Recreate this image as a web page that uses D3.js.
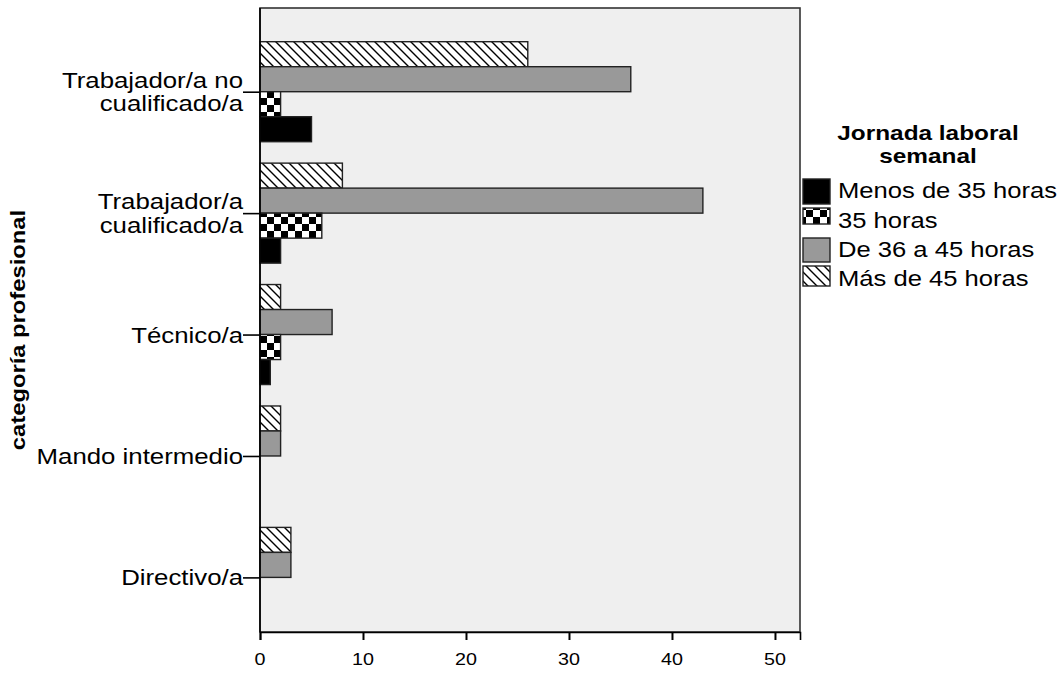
<!DOCTYPE html>
<html>
<head>
<meta charset="utf-8">
<script src="https://cdn.jsdelivr.net/npm/d3@7"></script>
<style>
  html, body { margin: 0; padding: 0; background: #ffffff; }
  svg { display: block; }
  text { font-family: "Liberation Sans", Arial, sans-serif; fill: #000; }
</style>
</head>
<body>
<svg id="chart" width="1062" height="693"></svg>
<script>
// ---- data ----
const categories = ["Trabajador/a no cualificado/a", "Trabajador/a cualificado/a", "Técnico/a", "Mando intermedio", "Directivo/a"];
const categoryLabelLines = [["Trabajador/a no", "cualificado/a"], ["Trabajador/a", "cualificado/a"], ["Técnico/a"], ["Mando intermedio"], ["Directivo/a"]];
const seriesNames = ["Menos de 35 horas", "35 horas", "De 36 a 45 horas", "Más de 45 horas"];
const menosDe35 = [5, 2, 1, 0, 0];
const horas35 = [2, 6, 2, 0, 0];
const de36a45 = [36, 43, 7, 2, 3];
const masDe45 = [26, 8, 2, 2, 3];
const xTicks = [0, 10, 20, 30, 40, 50];
const legendTitle = ["Jornada laboral", "semanal"];
const yTitle = "categoría profesional";

const seriesValues = [menosDe35, horas35, de36a45, masDe45];
const fills = ["#000000", "url(#checker)", "#999999", "url(#hatch)"];

// ---- layout ----
const svg = d3.select("#chart");
const plot = { left: 260, right: 800, top: 8, bottom: 632 };
const SX = 1.16; // horizontal stretch of the original's text

const x = d3.scaleLinear().domain([0, 52.43]).range([plot.left, plot.right]);
const y = d3.scalePoint().domain(categories).range([91.7, 577.4]);
// top-to-bottom order inside each group: Más, De 36 a 45, 35 horas, Menos
const sub = d3.scaleBand().domain([3, 2, 1, 0]).range([-50, 50]).padding(0);

// patterns
const defs = svg.append("defs");
const chk = defs.append("pattern").attr("id", "checker").attr("patternUnits", "userSpaceOnUse")
  .attr("width", 14).attr("height", 14).attr("x", plot.left).attr("y", 0);
chk.append("rect").attr("width", 14).attr("height", 14).attr("fill", "#fff");
chk.append("rect").attr("width", 7).attr("height", 7).attr("fill", "#000");
chk.append("rect").attr("x", 7).attr("y", 7).attr("width", 7).attr("height", 7).attr("fill", "#000");

const hatch = defs.append("pattern").attr("id", "hatch").attr("patternUnits", "userSpaceOnUse")
  .attr("width", 9).attr("height", 9);
hatch.append("rect").attr("width", 9).attr("height", 9).attr("fill", "#fff");
hatch.append("path").attr("d", "M-1,-1 L10,10 M-3,6 L3,12 M6,-3 L12,3")
  .attr("stroke", "#000").attr("stroke-width", 1.4);

// plot background
svg.append("rect").attr("x", plot.left).attr("y", plot.top)
  .attr("width", plot.right - plot.left).attr("height", plot.bottom - plot.top)
  .attr("fill", "#efefef").attr("stroke", "#333").attr("stroke-width", 1.6);

// bars
categories.forEach((c, ci) => {
  [3, 2, 1, 0].forEach(si => {
    const v = seriesValues[si][ci];
    if (v <= 0) return;
    svg.append("rect")
      .attr("x", x(0))
      .attr("y", y(c) + sub(si))
      .attr("width", x(v) - x(0))
      .attr("height", sub.bandwidth())
      .attr("fill", fills[si])
      .attr("stroke", "#222")
      .attr("stroke-width", 1.4);
  });
});

// helper for stretched text
function sText(parent, tx, ty, str, opts = {}) {
  const sx = opts.sx || SX;
  return parent.append("text")
    .attr("transform", `translate(${tx},${ty})${opts.rotate ? ` rotate(${opts.rotate})` : ""} scale(${sx},1)`)
    .attr("text-anchor", opts.anchor || "start")
    .attr("font-size", opts.size || 20)
    .attr("font-weight", opts.weight || "normal")
    .text(str);
}

// x axis
const xAxis = svg.append("g").attr("transform", `translate(0,${plot.bottom})`)
  .call(d3.axisBottom(x).tickValues(xTicks).tickSize(8).tickFormat(""));
xAxis.select(".domain").attr("stroke", "#000").attr("stroke-width", 1.6);
xAxis.selectAll(".tick line").attr("stroke", "#000").attr("stroke-width", 2);
xTicks.forEach(t => sText(svg, x(t), 665, String(t), { anchor: "middle", size: 17 }));

// y axis
const yAxis = svg.append("g").attr("transform", `translate(${plot.left},0)`)
  .call(d3.axisLeft(y).tickSize(17).tickFormat(""));
yAxis.select(".domain").remove();
yAxis.selectAll(".tick line").attr("stroke", "#000").attr("stroke-width", 1.6);
svg.append("line").attr("x1", plot.left).attr("x2", plot.left).attr("y1", plot.top).attr("y2", plot.bottom)
  .attr("stroke", "#000").attr("stroke-width", 1.6);

categories.forEach((c, ci) => {
  const lines = categoryLabelLines[ci];
  const lh = 23.4;
  const base = y(c) + 8 - (lines.length - 1) * lh / 2;
  lines.forEach((ln, li) => sText(svg, 243, base + li * lh, ln, { anchor: "end", size: 21.5, sx: 1.2 }));
});

// y title
sText(svg, 25, 330, yTitle, { anchor: "middle", size: 20.5, weight: "bold", rotate: -90 });

// legend
sText(svg, 928, 140, legendTitle[0], { anchor: "middle", size: 21, weight: "bold" });
sText(svg, 928, 163, legendTitle[1], { anchor: "middle", size: 21, weight: "bold" });

const legendBase = [198, 227.5, 256.5, 286];
const legendSw = [[179, 204], [208, 224], [238, 262], [266, 286]];
seriesNames.forEach((s, i) => {
  svg.append("rect").attr("x", 803).attr("y", legendSw[i][0])
    .attr("width", 27).attr("height", legendSw[i][1] - legendSw[i][0])
    .attr("fill", fills[i]).attr("stroke", "#222").attr("stroke-width", 1.4);
  sText(svg, 838, legendBase[i], s, { size: 21.5, sx: 1.19 });
});
</script>
</body>
</html>
